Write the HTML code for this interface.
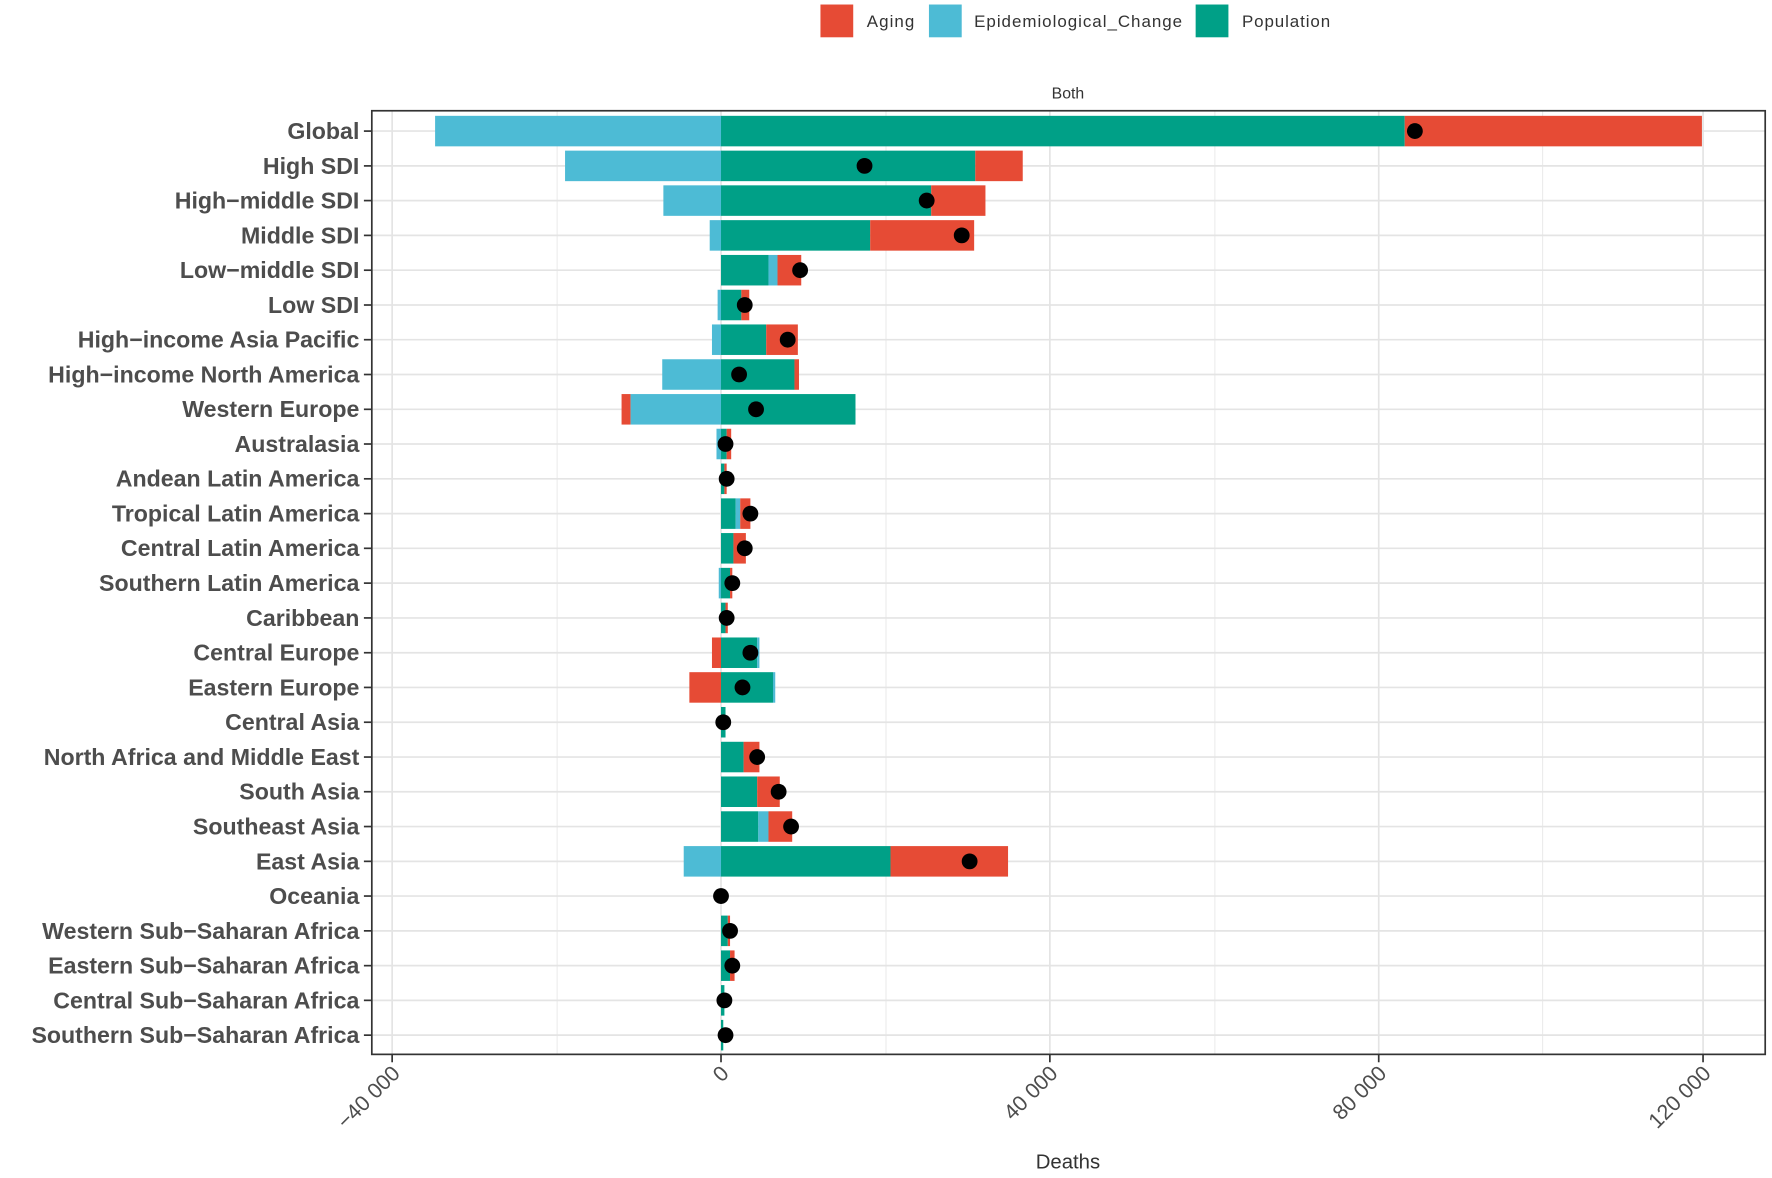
<!DOCTYPE html>
<html><head><meta charset="utf-8"><style>html,body{margin:0;padding:0;background:#fff}svg{display:block}</style></head>
<body>
<svg width="1772" height="1178" viewBox="0 0 1568 1042.4" xmlns="http://www.w3.org/2000/svg" font-family="Liberation Sans, sans-serif">
<rect width="1568" height="1042.4" fill="#fff"/>
<!-- legend -->
<rect x="726" y="4" width="29" height="29" fill="#E64B35"/>
<text x="767" y="24" font-size="15" fill="#333" textLength="42">Aging</text>
<rect x="822" y="4" width="29" height="29" fill="#4DBBD5"/>
<text x="862" y="24" font-size="15" fill="#333" textLength="184">Epidemiological_Change</text>
<rect x="1058" y="4" width="29" height="29" fill="#00A087"/>
<text x="1099" y="24" font-size="15" fill="#333" textLength="78">Population</text>
<text x="945" y="87" font-size="14" fill="#333" text-anchor="middle">Both</text>
<!-- grid -->
<g stroke="#ececec" stroke-width="1">
<line x1="493" y1="98" x2="493" y2="933"/><line x1="784" y1="98" x2="784" y2="933"/><line x1="1075" y1="98" x2="1075" y2="933"/><line x1="1365" y1="98" x2="1365" y2="933"/>
</g>
<g stroke="#e4e4e4" stroke-width="1.5">
<line x1="347" y1="98" x2="347" y2="933"/><line x1="638" y1="98" x2="638" y2="933"/><line x1="929" y1="98" x2="929" y2="933"/><line x1="1220" y1="98" x2="1220" y2="933"/><line x1="1507" y1="98" x2="1507" y2="933"/>
<line x1="329" y1="116" x2="1562" y2="116"/><line x1="329" y1="146.8" x2="1562" y2="146.8"/><line x1="329" y1="177.5" x2="1562" y2="177.5"/><line x1="329" y1="208.3" x2="1562" y2="208.3"/><line x1="329" y1="239.1" x2="1562" y2="239.1"/><line x1="329" y1="269.9" x2="1562" y2="269.9"/><line x1="329" y1="300.6" x2="1562" y2="300.6"/><line x1="329" y1="331.4" x2="1562" y2="331.4"/><line x1="329" y1="362.2" x2="1562" y2="362.2"/><line x1="329" y1="392.9" x2="1562" y2="392.9"/><line x1="329" y1="423.7" x2="1562" y2="423.7"/><line x1="329" y1="454.5" x2="1562" y2="454.5"/><line x1="329" y1="485.2" x2="1562" y2="485.2"/><line x1="329" y1="516" x2="1562" y2="516"/><line x1="329" y1="546.8" x2="1562" y2="546.8"/><line x1="329" y1="577.6" x2="1562" y2="577.6"/><line x1="329" y1="608.3" x2="1562" y2="608.3"/><line x1="329" y1="639.1" x2="1562" y2="639.1"/><line x1="329" y1="669.9" x2="1562" y2="669.9"/><line x1="329" y1="700.6" x2="1562" y2="700.6"/><line x1="329" y1="731.4" x2="1562" y2="731.4"/><line x1="329" y1="762.2" x2="1562" y2="762.2"/><line x1="329" y1="792.9" x2="1562" y2="792.9"/><line x1="329" y1="823.7" x2="1562" y2="823.7"/><line x1="329" y1="854.5" x2="1562" y2="854.5"/><line x1="329" y1="885.2" x2="1562" y2="885.2"/><line x1="329" y1="916" x2="1562" y2="916"/>
</g>
<!-- bars -->
<g>
<rect x="385" y="102.5" width="253" height="27" fill="#4DBBD5"/><rect x="638" y="102.5" width="605" height="27" fill="#00A087"/><rect x="1243" y="102.5" width="263" height="27" fill="#E64B35"/>
<rect x="500" y="133.3" width="138" height="27" fill="#4DBBD5"/><rect x="638" y="133.3" width="225" height="27" fill="#00A087"/><rect x="863" y="133.3" width="42" height="27" fill="#E64B35"/>
<rect x="587" y="164" width="51" height="27" fill="#4DBBD5"/><rect x="638" y="164" width="186" height="27" fill="#00A087"/><rect x="824" y="164" width="48" height="27" fill="#E64B35"/>
<rect x="628" y="194.8" width="10" height="27" fill="#4DBBD5"/><rect x="638" y="194.8" width="132" height="27" fill="#00A087"/><rect x="770" y="194.8" width="92" height="27" fill="#E64B35"/>
<rect x="638" y="225.6" width="42" height="27" fill="#00A087"/><rect x="680" y="225.6" width="8" height="27" fill="#4DBBD5"/><rect x="688" y="225.6" width="21" height="27" fill="#E64B35"/>
<rect x="635" y="256.4" width="3" height="27" fill="#4DBBD5"/><rect x="638" y="256.4" width="18" height="27" fill="#00A087"/><rect x="656" y="256.4" width="7" height="27" fill="#E64B35"/>
<rect x="630" y="287.1" width="8" height="27" fill="#4DBBD5"/><rect x="638" y="287.1" width="40" height="27" fill="#00A087"/><rect x="678" y="287.1" width="28" height="27" fill="#E64B35"/>
<rect x="586" y="317.9" width="52" height="27" fill="#4DBBD5"/><rect x="638" y="317.9" width="65" height="27" fill="#00A087"/><rect x="703" y="317.9" width="4" height="27" fill="#E64B35"/>
<rect x="550" y="348.7" width="8" height="27" fill="#E64B35"/><rect x="558" y="348.7" width="80" height="27" fill="#4DBBD5"/><rect x="638" y="348.7" width="119" height="27" fill="#00A087"/>
<rect x="634" y="379.4" width="4" height="27" fill="#4DBBD5"/><rect x="638" y="379.4" width="5" height="27" fill="#00A087"/><rect x="643" y="379.4" width="4" height="27" fill="#E64B35"/>
<rect x="638" y="410.2" width="3" height="27" fill="#00A087"/><rect x="641" y="410.2" width="2" height="27" fill="#E64B35"/>
<rect x="638" y="441" width="13" height="27" fill="#00A087"/><rect x="651" y="441" width="4" height="27" fill="#4DBBD5"/><rect x="655" y="441" width="9" height="27" fill="#E64B35"/>
<rect x="638" y="471.7" width="11" height="27" fill="#00A087"/><rect x="649" y="471.7" width="11" height="27" fill="#E64B35"/>
<rect x="636" y="502.5" width="2" height="27" fill="#4DBBD5"/><rect x="638" y="502.5" width="8" height="27" fill="#00A087"/><rect x="646" y="502.5" width="2" height="27" fill="#E64B35"/>
<rect x="638" y="533.3" width="4" height="27" fill="#00A087"/><rect x="642" y="533.3" width="2" height="27" fill="#E64B35"/>
<rect x="630" y="564.1" width="8" height="27" fill="#E64B35"/><rect x="638" y="564.1" width="32" height="27" fill="#00A087"/><rect x="670" y="564.1" width="2" height="27" fill="#4DBBD5"/>
<rect x="610" y="594.8" width="28" height="27" fill="#E64B35"/><rect x="638" y="594.8" width="46" height="27" fill="#00A087"/><rect x="684" y="594.8" width="2" height="27" fill="#4DBBD5"/>
<rect x="638" y="625.6" width="4" height="27" fill="#00A087"/>
<rect x="638" y="656.4" width="20" height="27" fill="#00A087"/><rect x="658" y="656.4" width="14" height="27" fill="#E64B35"/>
<rect x="638" y="687.1" width="32" height="27" fill="#00A087"/><rect x="670" y="687.1" width="20" height="27" fill="#E64B35"/>
<rect x="638" y="717.9" width="33" height="27" fill="#00A087"/><rect x="671" y="717.9" width="9" height="27" fill="#4DBBD5"/><rect x="680" y="717.9" width="21" height="27" fill="#E64B35"/>
<rect x="605" y="748.7" width="33" height="27" fill="#4DBBD5"/><rect x="638" y="748.7" width="150" height="27" fill="#00A087"/><rect x="788" y="748.7" width="104" height="27" fill="#E64B35"/>
<rect x="638" y="810.2" width="6" height="27" fill="#00A087"/><rect x="644" y="810.2" width="2" height="27" fill="#E64B35"/>
<rect x="638" y="841" width="8" height="27" fill="#00A087"/><rect x="646" y="841" width="4" height="27" fill="#E64B35"/>
<rect x="638" y="871.7" width="3" height="27" fill="#00A087"/>
<rect x="638" y="902.5" width="2" height="27" fill="#00A087"/>
</g>
<!-- dots -->
<g fill="#000">
<circle cx="1252" cy="116" r="7"/><circle cx="765" cy="146.8" r="7"/><circle cx="820" cy="177.5" r="7"/><circle cx="851" cy="208.3" r="7"/><circle cx="708" cy="239.1" r="7"/><circle cx="659" cy="269.9" r="7"/><circle cx="697" cy="300.6" r="7"/><circle cx="654" cy="331.4" r="7"/><circle cx="669" cy="362.2" r="7"/><circle cx="642" cy="392.9" r="7"/><circle cx="643" cy="423.7" r="7"/><circle cx="664" cy="454.5" r="7"/><circle cx="659" cy="485.2" r="7"/><circle cx="648" cy="516" r="7"/><circle cx="643" cy="546.8" r="7"/><circle cx="664" cy="577.6" r="7"/><circle cx="657" cy="608.3" r="7"/><circle cx="640" cy="639.1" r="7"/><circle cx="670" cy="669.9" r="7"/><circle cx="689" cy="700.6" r="7"/><circle cx="700" cy="731.4" r="7"/><circle cx="858" cy="762.2" r="7"/><circle cx="638" cy="792.9" r="7"/><circle cx="646" cy="823.7" r="7"/><circle cx="648" cy="854.5" r="7"/><circle cx="641" cy="885.2" r="7"/><circle cx="642" cy="916" r="7"/>
</g>
<rect x="329" y="98" width="1233" height="835" fill="none" stroke="#333" stroke-width="1.5"/>
<!-- y labels -->
<g font-size="20.5" font-weight="bold" fill="#4d4d4d" text-anchor="end">
<text x="318" y="123">Global</text><text x="318" y="153.8">High SDI</text><text x="318" y="184.5">High−middle SDI</text><text x="318" y="215.3">Middle SDI</text><text x="318" y="246.1">Low−middle SDI</text><text x="318" y="276.9">Low SDI</text><text x="318" y="307.6">High−income Asia Pacific</text><text x="318" y="338.4">High−income North America</text><text x="318" y="369.2">Western Europe</text><text x="318" y="399.9">Australasia</text><text x="318" y="430.7">Andean Latin America</text><text x="318" y="461.5">Tropical Latin America</text><text x="318" y="492.2">Central Latin America</text><text x="318" y="523">Southern Latin America</text><text x="318" y="553.8">Caribbean</text><text x="318" y="584.6">Central Europe</text><text x="318" y="615.3">Eastern Europe</text><text x="318" y="646.1">Central Asia</text><text x="318" y="676.9">North Africa and Middle East</text><text x="318" y="707.6">South Asia</text><text x="318" y="738.4">Southeast Asia</text><text x="318" y="769.2">East Asia</text><text x="318" y="799.9">Oceania</text><text x="318" y="830.7">Western Sub−Saharan Africa</text><text x="318" y="861.5">Eastern Sub−Saharan Africa</text><text x="318" y="892.2">Central Sub−Saharan Africa</text><text x="318" y="923">Southern Sub−Saharan Africa</text>
</g>
<g stroke="#333" stroke-width="1.5">
<line x1="322" y1="116" x2="329" y2="116"/><line x1="322" y1="146.8" x2="329" y2="146.8"/><line x1="322" y1="177.5" x2="329" y2="177.5"/><line x1="322" y1="208.3" x2="329" y2="208.3"/><line x1="322" y1="239.1" x2="329" y2="239.1"/><line x1="322" y1="269.9" x2="329" y2="269.9"/><line x1="322" y1="300.6" x2="329" y2="300.6"/><line x1="322" y1="331.4" x2="329" y2="331.4"/><line x1="322" y1="362.2" x2="329" y2="362.2"/><line x1="322" y1="392.9" x2="329" y2="392.9"/><line x1="322" y1="423.7" x2="329" y2="423.7"/><line x1="322" y1="454.5" x2="329" y2="454.5"/><line x1="322" y1="485.2" x2="329" y2="485.2"/><line x1="322" y1="516" x2="329" y2="516"/><line x1="322" y1="546.8" x2="329" y2="546.8"/><line x1="322" y1="577.6" x2="329" y2="577.6"/><line x1="322" y1="608.3" x2="329" y2="608.3"/><line x1="322" y1="639.1" x2="329" y2="639.1"/><line x1="322" y1="669.9" x2="329" y2="669.9"/><line x1="322" y1="700.6" x2="329" y2="700.6"/><line x1="322" y1="731.4" x2="329" y2="731.4"/><line x1="322" y1="762.2" x2="329" y2="762.2"/><line x1="322" y1="792.9" x2="329" y2="792.9"/><line x1="322" y1="823.7" x2="329" y2="823.7"/><line x1="322" y1="854.5" x2="329" y2="854.5"/><line x1="322" y1="885.2" x2="329" y2="885.2"/><line x1="322" y1="916" x2="329" y2="916"/>
<line x1="347" y1="933" x2="347" y2="940"/><line x1="638" y1="933" x2="638" y2="940"/><line x1="929" y1="933" x2="929" y2="940"/><line x1="1220" y1="933" x2="1220" y2="940"/><line x1="1507" y1="933" x2="1507" y2="940"/>
</g>
<!-- x labels -->
<g font-size="19" fill="#4d4d4d" text-anchor="end">
<text transform="translate(355,951) rotate(-45)">−40 000</text>
<text transform="translate(646,951) rotate(-45)">0</text>
<text transform="translate(937,951) rotate(-45)">40 000</text>
<text transform="translate(1228,951) rotate(-45)">80 000</text>
<text transform="translate(1515,951) rotate(-45)">120 000</text>
</g>
<text x="945" y="1034" font-size="18" fill="#333" text-anchor="middle">Deaths</text>
</svg>
</body></html>
